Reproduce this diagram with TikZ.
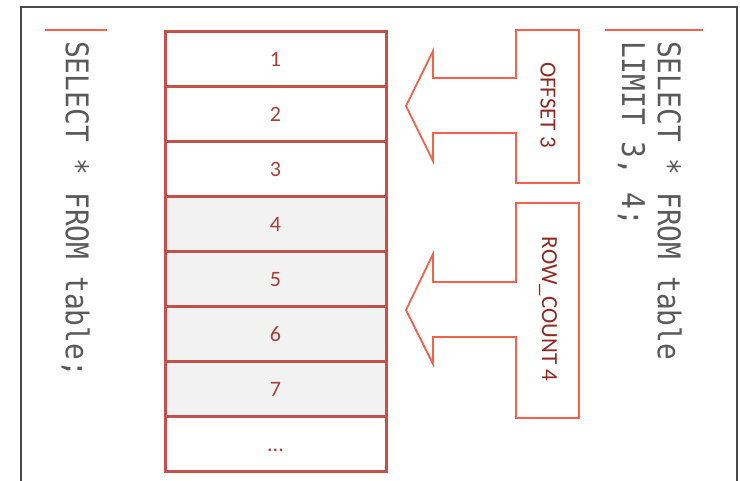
\documentclass[tikz,border=0pt]{standalone}
\usepackage{fontspec}
\setmainfont{Carlito}
\newfontfamily\codefont{DejaVu Sans Mono}
\definecolor{cellred}{HTML}{C4504A}
\definecolor{cellnum}{HTML}{A63F38}
\definecolor{arrowred}{HTML}{F2634F}
\definecolor{labelred}{HTML}{8E2A24}
\definecolor{codegray}{HTML}{5A5A5A}
\definecolor{framegray}{HTML}{4A4A4A}
\definecolor{cellgray}{HTML}{F2F2F2}
\begin{document}
\begin{tikzpicture}[x=1pt,y=-1pt,
  cell/.style={draw=cellred, line width=3pt, minimum width=221pt, minimum height=55pt,
    inner sep=0pt, text height=15pt, text depth=0pt, anchor=north west, text=cellnum,
    font=\fontsize{22}{26}\selectfont},
  shaded/.style={cell, fill=cellgray},
  callout/.style={draw=arrowred, line width=1.8pt, line join=miter, fill=white},
  calloutlabel/.style={rotate=-90, text=labelred, font=\fontsize{23}{27}\selectfont, inner sep=0pt},
  code/.style={rotate=-90, yscale=1.12, text=codegray, inner sep=0pt, anchor=north west,
    align=left, font=\codefont\fontsize{27.9}{32}\selectfont},
  accent/.style={draw=arrowred, line width=2pt}]
\useasboundingbox (0,0) rectangle (740,480);
\fill[white] (0,0) rectangle (740,480);

% outer frame, open at the bottom
\draw[framegray, line width=2pt] (21,481) -- (21,7) -- (737,7) -- (737,481);

% the table rows
\node[cell]   (r1) at (163.5,29.5)  {1};
\node[cell]   (r2) at (163.5,84.5)  {2};
\node[cell]   (r3) at (163.5,139.5) {3};
\node[shaded] (r4) at (163.5,194.5) {4};
\node[shaded] (r5) at (163.5,249.5) {5};
\node[shaded] (r6) at (163.5,304.5) {6};
\node[shaded] (r7) at (163.5,359.5) {7};
\node[cell]   (r8) at (163.5,414.5) {...};

% OFFSET callout arrow
\draw[callout] (579,30) -- (516,30) -- (516,78) -- (433,78) -- (433,51) -- (406,106)
  -- (433,161) -- (433,133) -- (516,133) -- (516,183) -- (579,183) -- cycle;
\node[calloutlabel] (offset) at (548,105) {OFFSET 3};

% ROW_COUNT callout arrow
\draw[callout] (579,203) -- (516,203) -- (516,282) -- (433,282) -- (433,254) -- (406,310)
  -- (433,364) -- (433,337) -- (516,337) -- (516,418) -- (579,418) -- cycle;
\node[calloutlabel] (rowcount) at (548,309) {ROW\_COUNT 4};

% queries
\draw[accent] (45,30) -- (107,30);
\node[code] (q1) at (90,41) {SELECT * FROM table;};
\draw[accent] (605,30) -- (703,30);
\node[code] (q2) at (682,41) {SELECT * FROM table\\LIMIT 3, 4;};
\end{tikzpicture}
\end{document}
